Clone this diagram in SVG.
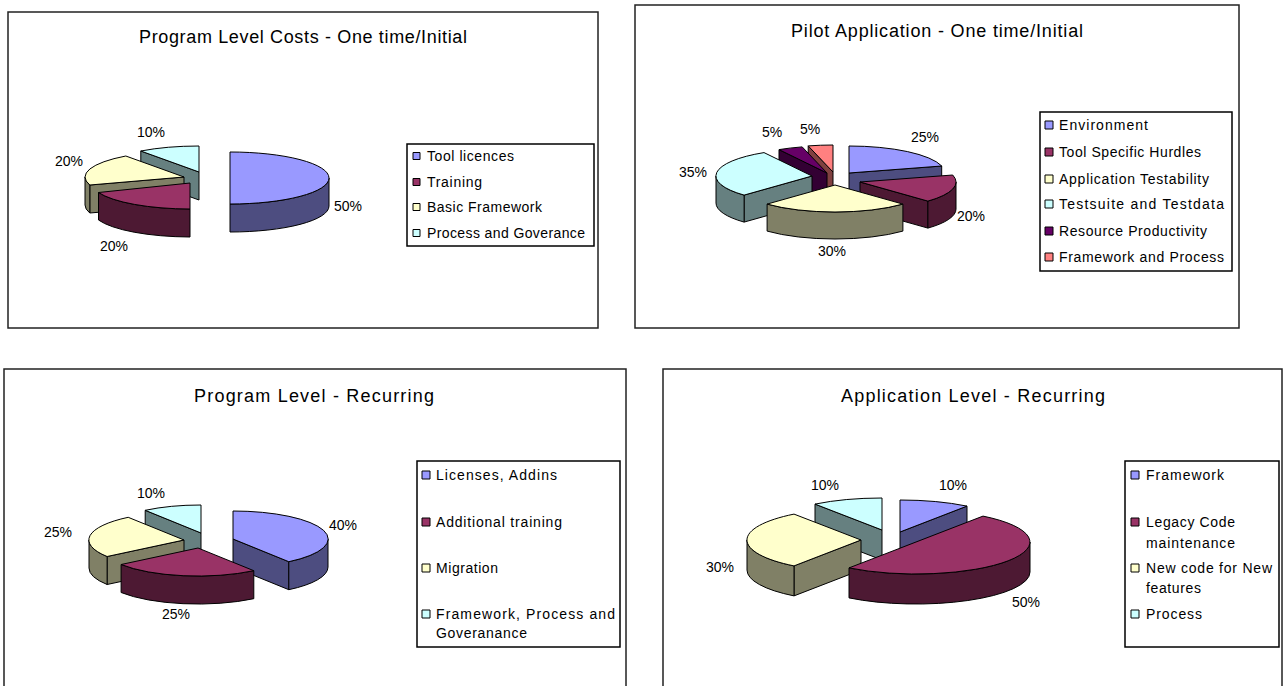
<svg xmlns="http://www.w3.org/2000/svg" width="1284" height="686" viewBox="0 0 1284 686">
<style>
text{font-family:"Liberation Sans",Arial,sans-serif;fill:#000}
.title{font-size:18px;text-anchor:middle}
.leg{font-size:14px}
.pct{font-size:14px;text-anchor:middle}
.frame{fill:#fff;stroke:#222;stroke-width:1.5}
.lbox{fill:#fff;stroke:#000;stroke-width:1.5}
path,.mk{stroke:#000;stroke-width:1;stroke-linejoin:round}
.b{fill:#9999FF}.bs{fill:#4D4D80}
.m{fill:#993366}.ms{fill:#4D1933}
.y{fill:#FFFFCC}.ys{fill:#808066}
.c{fill:#CCFFFF}.cs{fill:#668080}
.p{fill:#660066}.ps{fill:#330033}
.s{fill:#FF8080}.ss{fill:#804040}
</style>
<rect width="1284" height="686" fill="#fff"/>

<g id="chart1">
<rect class="frame" x="8" y="12" width="590" height="316"/>
<text class="title" x="303" y="43" textLength="328" lengthAdjust="spacing">Program Level Costs - One time/Initial</text>
<g id="c1-process"><path class="cs" d="M199,172 L140.8,151 L140.8,179 L199,200 Z"/><path class="c" d="M199,172 L140.8,151 A99,26 0 0 1 199,146 Z"/></g>
<g id="c1-basic"><path class="ys" d="M184,177 L89.8,185 L89.8,213 L184,205 Z"/><path class="ys" d="M89.8,185 A99,26 0 0 1 85,177 L85,205 A99,26 0 0 0 89.8,213 Z"/><path class="y" d="M184,177 L89.8,185 A99,26 0 0 1 125.8,156 Z"/></g>
<g id="c1-tool"><path class="bs" d="M329,178 A99,26 0 0 1 230,204 L230,232 A99,26 0 0 0 329,206 Z"/><path class="b" d="M230,178 L230,152 A99,26 0 0 1 230,204 Z"/></g>
<g id="c1-training"><path class="ms" d="M190,209 A99,26 0 0 1 98.5,192.5 L98.5,220 A99,26 0 0 0 190,237 Z"/><path class="m" d="M190,183 L190,209 A99,26 0 0 1 98.5,192.5 Z"/></g>
<g id="c1-labels">
<text class="pct" x="348" y="211">50%</text>
<text class="pct" x="69" y="166">20%</text>
<text class="pct" x="151" y="137">10%</text>
<text class="pct" x="114" y="251">20%</text>
</g>
<g id="c1-legend">
<rect class="lbox" x="407" y="144" width="187" height="102"/>
<rect class="mk b" x="413" y="152.5" width="7" height="7"/>
<rect class="mk m" x="413" y="178.5" width="7" height="7"/>
<rect class="mk y" x="413" y="203.5" width="7" height="7"/>
<rect class="mk c" x="413" y="229.5" width="7" height="7"/>
<text class="leg" x="427" y="161" textLength="87" lengthAdjust="spacing">Tool licences</text>
<text class="leg" x="427" y="187" textLength="55" lengthAdjust="spacing">Training</text>
<text class="leg" x="427" y="212" textLength="115" lengthAdjust="spacing">Basic Framework</text>
<text class="leg" x="427" y="238" textLength="158" lengthAdjust="spacing">Process and Goverance</text>
</g>
</g>

<g id="chart2">
<rect class="frame" x="635" y="5" width="604" height="323"/>
<text class="title" x="937" y="37" textLength="292" lengthAdjust="spacing">Pilot Application - One time/Initial</text>
<g id="c2-framework"><path class="ss" d="M833,172 L808.2,145.9 L808.2,172.9 L833,199 Z"/><path class="s" d="M833,172 L808.2,145.9 A96,27 0 0 1 833,145 Z"/></g>
<g id="c2-resource"><path class="ps" d="M827,173 L779,149.6 L779,176.6 L827,200 Z"/><path class="p" d="M827,173 L779,149.6 A96,27 0 0 1 802.2,146.9 Z"/></g>
<g id="c2-environment"><path class="bs" d="M849,173 L941.7,166 L941.7,193 L849,200 Z"/><path class="b" d="M849,173 L849,146 A96,27 0 0 1 941.7,166 Z"/></g>
<g id="c2-testsuite"><path class="cs" d="M812,176 L744.1,195.1 L744.1,222.1 L812,203 Z"/><path class="cs" d="M744.1,195.1 A96,27 0 0 1 716,176 L716,203 A96,27 0 0 0 744.1,222.1 Z"/><path class="c" d="M812,176 L744.1,195.1 A96,27 0 0 1 764,152.6 Z"/></g>
<g id="c2-tool"><path class="ms" d="M860,182 L927.9,201.1 L927.9,228.1 L860,209 Z"/><path class="ms" d="M956,182 A96,27 0 0 1 927.9,201.1 L927.9,228.1 A96,27 0 0 0 956,209 Z"/><path class="m" d="M860,182 L952.7,175 A96,27 0 0 1 927.9,201.1 Z"/></g>
<g id="c2-application"><path class="ys" d="M902.9,204.1 A96,27 0 0 1 767.1,204.1 L767.1,231.1 A96,27 0 0 0 902.9,231.1 Z"/><path class="y" d="M835,185 L902.9,204.1 A96,27 0 0 1 767.1,204.1 Z"/></g>
<g id="c2-labels">
<text class="pct" x="925" y="142">25%</text>
<text class="pct" x="971" y="221">20%</text>
<text class="pct" x="832" y="256">30%</text>
<text class="pct" x="693" y="177">35%</text>
<text class="pct" x="772" y="137">5%</text>
<text class="pct" x="810" y="134">5%</text>
</g>
<g id="c2-legend">
<rect class="lbox" x="1040" y="112" width="192" height="159"/>
<rect class="mk b" x="1045" y="121" width="8" height="8"/>
<rect class="mk m" x="1045" y="148" width="8" height="8"/>
<rect class="mk y" x="1045" y="175" width="8" height="8"/>
<rect class="mk c" x="1045" y="200" width="8" height="8"/>
<rect class="mk p" x="1045" y="227" width="8" height="8"/>
<rect class="mk s" x="1045" y="253" width="8" height="8"/>
<text class="leg" x="1059" y="130" textLength="89" lengthAdjust="spacing">Environment</text>
<text class="leg" x="1059" y="157" textLength="142" lengthAdjust="spacing">Tool Specific Hurdles</text>
<text class="leg" x="1059" y="184" textLength="150" lengthAdjust="spacing">Application Testability</text>
<text class="leg" x="1059" y="209" textLength="165" lengthAdjust="spacing">Testsuite and Testdata</text>
<text class="leg" x="1059" y="236" textLength="148" lengthAdjust="spacing">Resource Productivity</text>
<text class="leg" x="1059" y="262" textLength="165" lengthAdjust="spacing">Framework and Process</text>
</g>
</g>

<g id="chart3">
<rect class="frame" x="4" y="369" width="622" height="330"/>
<text class="title" x="314" y="402" textLength="240" lengthAdjust="spacing">Program Level - Recurring</text>
<g id="c3-framework"><path class="cs" d="M201,533 L145.2,510.3 L145.2,538.3 L201,561 Z"/><path class="c" d="M201,533 L145.2,510.3 A95,28 0 0 1 201,505 Z"/></g>
<g id="c3-licenses"><path class="bs" d="M233,539 L288.8,561.7 L288.8,589.7 L233,567 Z"/><path class="bs" d="M328,539 A95,28 0 0 1 288.8,561.7 L288.8,589.7 A95,28 0 0 0 328,567 Z"/><path class="b" d="M233,539 L233,511 A95,28 0 0 1 288.8,561.7 Z"/></g>
<g id="c3-migration"><path class="ys" d="M184,540 L107.1,556.5 L107.1,584.5 L184,568 Z"/><path class="ys" d="M107.1,556.5 A95,28 0 0 1 89,540 L89,568 A95,28 0 0 0 107.1,584.5 Z"/><path class="y" d="M184,540 L107.1,556.5 A95,28 0 0 1 128.2,517.3 Z"/></g>
<g id="c3-training"><path class="ms" d="M253.8,570.7 A95,28 0 0 1 121.1,564.5 L121.1,592.5 A95,28 0 0 0 253.8,598.7 Z"/><path class="m" d="M198,548 L253.8,570.7 A95,28 0 0 1 121.1,564.5 Z"/></g>
<g id="c3-labels">
<text class="pct" x="343" y="530">40%</text>
<text class="pct" x="58" y="537">25%</text>
<text class="pct" x="151" y="498">10%</text>
<text class="pct" x="176" y="619">25%</text>
</g>
<g id="c3-legend">
<rect class="lbox" x="417" y="461" width="203" height="186"/>
<rect class="mk b" x="422" y="471" width="8" height="8"/>
<rect class="mk m" x="422" y="518" width="8" height="8"/>
<rect class="mk y" x="422" y="564" width="8" height="8"/>
<rect class="mk c" x="422" y="610" width="8" height="8"/>
<text class="leg" x="436" y="480" textLength="121" lengthAdjust="spacing">Licenses, Addins</text>
<text class="leg" x="436" y="527" textLength="126" lengthAdjust="spacing">Additional training</text>
<text class="leg" x="436" y="573" textLength="62" lengthAdjust="spacing">Migration</text>
<text class="leg" x="436" y="619" textLength="179" lengthAdjust="spacing">Framework, Process and</text>
<text class="leg" x="436" y="638" textLength="91" lengthAdjust="spacing">Goveranance</text>
</g>
</g>

<g id="chart4">
<rect class="frame" x="663" y="369" width="619" height="330"/>
<text class="title" x="973" y="402" textLength="264" lengthAdjust="spacing">Application Level - Recurring</text>
<g id="c4-framework"><path class="bs" d="M900,532 L967,506.1 L967,536.1 L900,562 Z"/><path class="b" d="M900,532 L900,500 A114,32 0 0 1 967,506.1 Z"/></g>
<g id="c4-process"><path class="cs" d="M882,530 L815,504.1 L815,534.1 L882,560 Z"/><path class="c" d="M882,530 L815,504.1 A114,32 0 0 1 882,498 Z"/></g>
<g id="c4-newcode"><path class="ys" d="M861,540 L794,565.9 L794,595.9 L861,570 Z"/><path class="ys" d="M794,565.9 A114,32 0 0 1 747,540 L747,570 A114,32 0 0 0 794,595.9 Z"/><path class="y" d="M861,540 L794,565.9 A114,32 0 0 1 794,514.1 Z"/></g>
<g id="c4-legacy"><path class="ms" d="M1030,542 A114,32 0 0 1 849,567.9 L849,597.9 A114,32 0 0 0 1030,572 Z"/><path class="m" d="M916,542 L983,516.1 A114,32 0 0 1 849,567.9 Z"/></g>
<g id="c4-labels">
<text class="pct" x="953" y="490">10%</text>
<text class="pct" x="825" y="490">10%</text>
<text class="pct" x="720" y="572">30%</text>
<text class="pct" x="1026" y="607">50%</text>
</g>
<g id="c4-legend">
<rect class="lbox" x="1125" y="461" width="154" height="186"/>
<rect class="mk b" x="1131" y="471" width="8" height="8"/>
<rect class="mk m" x="1131" y="518" width="8" height="8"/>
<rect class="mk y" x="1131" y="564" width="8" height="8"/>
<rect class="mk c" x="1131" y="610" width="8" height="8"/>
<text class="leg" x="1146" y="480" textLength="78" lengthAdjust="spacing">Framework</text>
<text class="leg" x="1146" y="527" textLength="89" lengthAdjust="spacing">Legacy Code</text>
<text class="leg" x="1146" y="548" textLength="89" lengthAdjust="spacing">maintenance</text>
<text class="leg" x="1146" y="573" textLength="126" lengthAdjust="spacing">New code for New</text>
<text class="leg" x="1146" y="593" textLength="55" lengthAdjust="spacing">features</text>
<text class="leg" x="1146" y="619" textLength="56" lengthAdjust="spacing">Process</text>
</g>
</g>
</svg>
